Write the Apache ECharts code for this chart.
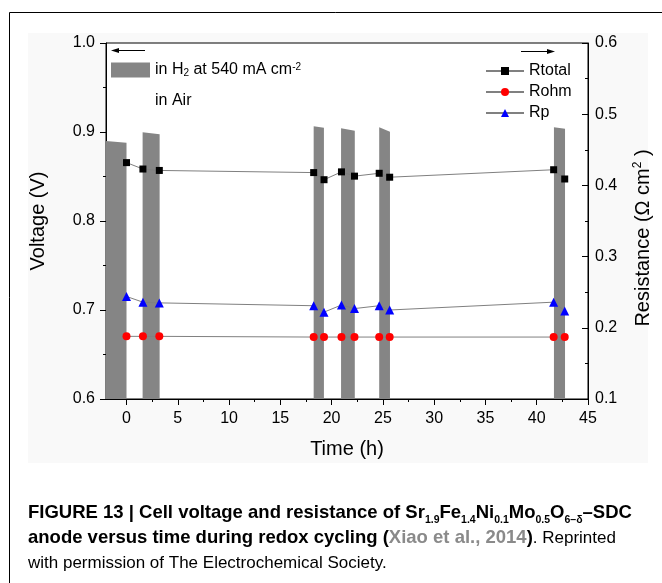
<!DOCTYPE html>
<html>
<head>
<meta charset="utf-8">
<script src="https://cdn.jsdelivr.net/npm/echarts@6/dist/echarts.min.js"></script>
<style>
html,body{margin:0;padding:0;background:#fff;}
#chart{width:662px;height:583px;}
</style>
</head>
<body>
<div id="chart"></div>
<script>
// ---- data ----
const times  = [0, 1.6, 3.2, 18.25, 19.26, 20.96, 22.23, 24.64, 25.66, 41.65, 42.73];
const rTotal = [0.432, 0.423, 0.421, 0.418, 0.408, 0.419, 0.413, 0.417, 0.4115, 0.422, 0.409];
const rOhm   = [0.188, 0.188, 0.188, 0.187, 0.187, 0.187, 0.187, 0.187, 0.187, 0.187, 0.187];
const rP     = [0.244, 0.236, 0.235, 0.231, 0.222, 0.232, 0.227, 0.231, 0.225, 0.236, 0.2235];

// H2 periods (shaded): start time, end time, voltage at start, voltage at end
const h2Start    = [-2, 1.57, 18.25, 20.92, 24.64, 41.68];
const h2End      = [0, 3.23, 19.25, 22.26, 25.69, 42.76];
const h2VoltFrom = [0.890, 0.8996, 0.9064, 0.9041, 0.9052, 0.9052];
const h2VoltTo   = [0.888, 0.8974, 0.9049, 0.9015, 0.9004, 0.9037];

const xMajorTicks = [0, 5, 10, 15, 20, 25, 30, 35, 40, 45];
const xMinorTicks = [2.5, 7.5, 12.5, 17.5, 22.5, 27.5, 32.5, 37.5, 42.5];

const voltMin = 0.6, voltMax = 1.0;
const resMin = 0.1, resMax = 0.6;

const FONT = 'Liberation Sans, Arial, sans-serif';
const h2Name = 'in H2 at 540 mA cm-2';
const airName = 'in Air';

const chart = echarts.init(document.getElementById('chart'), null, {renderer: 'canvas'});

const pairs = (ys) => times.map((t, i) => [t, ys[i]]);
const h2Data = h2Start.map((s, i) => [s, h2End[i], h2VoltFrom[i], h2VoltTo[i]]);

const lineGray = '#808080';

const option = {
  animation: false,
  backgroundColor: '#ffffff',
  textStyle: {fontFamily: FONT, color: '#000'},
  title: {
    left: 28,
    top: 500,
    padding: 0,
    text: '{b|FIGURE 13 | Cell voltage and resistance of Sr}{bs|1.9}{b|Fe}{bs|1.4}{b|Ni}{bs|0.1}{b|Mo}{bs|0.5}{b|O}{bs|6\u2013\u03b4}{b|\u2013SDC}\n' +
          '{b|anode versus time during redox cycling (}{g|Xiao et al., 2014}{b|)}{r|. Reprinted}\n' +
          '{r|with permission of The Electrochemical Society.}',
    textStyle: {
      fontFamily: FONT,
      rich: {
        b: {fontFamily: FONT, fontWeight: 'bold', fontSize: 18.5, lineHeight: 25.5, color: '#000'},
        bs: {fontFamily: FONT, fontWeight: 'bold', fontSize: 10.5, lineHeight: 14, verticalAlign: 'bottom', color: '#000'},
        g: {fontFamily: FONT, fontWeight: 'bold', fontSize: 18.5, lineHeight: 25.5, color: '#8a8a8a'},
        r: {fontFamily: FONT, fontWeight: 'normal', fontSize: 17, lineHeight: 25.5, color: '#000'}
      }
    }
  },
  grid: {
    left: 106, right: 74, top: 43, bottom: 184,
    show: true, backgroundColor: '#ffffff', borderColor: '#000', borderWidth: 1
  },
  legend: [
    {
      orient: 'vertical', left: 485, top: 63, padding: 0,
      itemWidth: 38, itemHeight: 10, itemGap: 5, itemTextGap: 5,
      selectedMode: false,
      textStyle: {fontFamily: FONT, fontSize: 16, lineHeight: 16, color: '#000'},
      data: ['Rtotal', 'Rohm', 'Rp']
    },
    {
      orient: 'vertical', left: 111, top: 62, padding: 0,
      itemWidth: 39, itemHeight: 15, itemGap: 14.7, itemTextGap: 3,
      selectedMode: false,
      textStyle: {
        fontFamily: FONT, fontSize: 16, lineHeight: 16, color: '#000',
        rich: {
          a: {fontFamily: FONT, fontSize: 16, lineHeight: 16, color: '#000'},
          sub: {fontFamily: FONT, fontSize: 10, lineHeight: 10, verticalAlign: 'bottom', color: '#000'},
          sup: {fontFamily: FONT, fontSize: 10, lineHeight: 10, verticalAlign: 'top', color: '#000'}
        }
      },
      formatter: function (name) {
        if (name === h2Name) return '{a|in H}{sub|2}{a| at 540 mA cm}{sup|-2}';
        return '{a|' + name + '}';
      },
      data: [
        {name: h2Name, icon: 'rect'},
        {name: airName, icon: 'rect', itemStyle: {color: 'rgba(0,0,0,0)', borderWidth: 0}, lineStyle: {width: 0}}
      ]
    }
  ],
  xAxis: [
    {
      type: 'value', position: 'bottom', min: -2, max: 45,
      name: 'Time (h)', nameLocation: 'middle', nameGap: 40,
      nameTextStyle: {fontFamily: FONT, fontSize: 20, color: '#000'},
      axisLine: {show: true, onZero: false, lineStyle: {color: '#000', width: 1}},
      axisTick: {show: true, inside: false, length: 6, customValues: xMajorTicks, lineStyle: {color: '#000', width: 1}},
      axisLabel: {show: true, customValues: xMajorTicks, margin: 12, fontFamily: FONT, fontSize: 16, color: '#000'},
      splitLine: {show: false}
    },
    {
      type: 'value', position: 'bottom', min: -2, max: 45,
      axisLine: {show: false, onZero: false},
      axisTick: {show: true, inside: false, length: 3, customValues: xMinorTicks, lineStyle: {color: '#000', width: 1}},
      axisLabel: {show: false},
      splitLine: {show: false}
    }
  ],
  yAxis: [
    {
      type: 'value', position: 'left', min: voltMin, max: voltMax, interval: 0.1,
      name: 'Voltage (V)', nameLocation: 'middle', nameGap: 58, nameRotate: 90,
      nameTextStyle: {fontFamily: FONT, fontSize: 20, color: '#000'},
      axisLine: {show: true, onZero: false, lineStyle: {color: '#000', width: 1}},
      axisTick: {show: true, inside: false, length: 6, lineStyle: {color: '#000', width: 1}},
      minorTick: {show: true, splitNumber: 2, length: 3, lineStyle: {color: '#000', width: 1}},
      axisLabel: {margin: 11, fontFamily: FONT, fontSize: 16, color: '#000', formatter: v => v.toFixed(1)},
      splitLine: {show: false}
    },
    {
      type: 'value', position: 'right', min: resMin, max: resMax, interval: 0.1,
      name: '{a|Resistance (\u03a9 cm}{sup|2}{a| )}', nameLocation: 'middle', nameGap: 44, nameRotate: 90,
      nameTextStyle: {
        fontFamily: FONT, fontSize: 20, color: '#000', padding: [0, 34, 0, 0],
        rich: {
          a: {fontFamily: FONT, fontSize: 20, lineHeight: 22, color: '#000'},
          sup: {fontFamily: FONT, fontSize: 12, lineHeight: 12, verticalAlign: 'top', color: '#000'}
        }
      },
      axisLine: {show: true, onZero: false, lineStyle: {color: '#000', width: 1}},
      axisTick: {show: true, inside: true, length: 6, lineStyle: {color: '#000', width: 1}},
      minorTick: {show: true, splitNumber: 2, length: 3, lineStyle: {color: '#000', width: 1}},
      axisLabel: {margin: 7, fontFamily: FONT, fontSize: 16, color: '#000', formatter: v => v.toFixed(1)},
      splitLine: {show: false}
    }
  ],
  graphic: [
    {type: 'rect', z: -100, silent: true, shape: {x: 28, y: 33, width: 620, height: 430}, style: {fill: '#f9f9f9'}},
    {type: 'line', silent: true, shape: {x1: 9.5, y1: 12.5, x2: 9.5, y2: 583}, style: {stroke: '#000', lineWidth: 1}},
    {type: 'line', silent: true, shape: {x1: 9.5, y1: 12.5, x2: 662, y2: 12.5}, style: {stroke: '#000', lineWidth: 1}},
    // arrows indicating axis of each group
    {type: 'line', silent: true, z: 10, shape: {x1: 117, y1: 50.5, x2: 145, y2: 50.5}, style: {stroke: '#000', lineWidth: 1}},
    {type: 'polygon', silent: true, z: 10, shape: {points: [[111, 50.5], [119, 48], [119, 53]]}, style: {fill: '#000'}},
    {type: 'line', silent: true, z: 10, shape: {x1: 521, y1: 51.5, x2: 549, y2: 51.5}, style: {stroke: '#000', lineWidth: 1}},
    {type: 'polygon', silent: true, z: 10, shape: {points: [[555, 51.5], [547, 49], [547, 54]]}, style: {fill: '#000'}}
  ],
  series: [
    {
      name: h2Name,
      type: 'custom',
      xAxisIndex: 0, yAxisIndex: 0,
      z: 1,
      itemStyle: {color: '#858585'},
      encode: {x: [0, 1], y: [2, 3]},
      data: h2Data,
      renderItem: function (params, api) {
        const x0 = api.value(0), x1 = api.value(1), y0 = api.value(2), y1 = api.value(3);
        const p1 = api.coord([x0, voltMin]);
        const p2 = api.coord([x0, y0]);
        const p3 = api.coord([x1, y1]);
        const p4 = api.coord([x1, voltMin]);
        return {
          type: 'polygon',
          shape: {points: [p1, p2, p3, p4]},
          style: {fill: '#858585', stroke: null}
        };
      }
    },
    {
      name: airName, type: 'line', xAxisIndex: 0, yAxisIndex: 0, data: [],
      itemStyle: {color: 'rgba(0,0,0,0)'}, lineStyle: {width: 0}
    },
    {
      name: 'Rtotal', type: 'line', xAxisIndex: 0, yAxisIndex: 1, z: 3,
      data: pairs(rTotal),
      symbol: 'rect', symbolSize: 7,
      itemStyle: {color: '#000'},
      lineStyle: {color: lineGray, width: 1}
    },
    {
      name: 'Rohm', type: 'line', xAxisIndex: 0, yAxisIndex: 1, z: 3,
      data: pairs(rOhm),
      symbol: 'circle', symbolSize: 8,
      itemStyle: {color: '#ff0000'},
      lineStyle: {color: lineGray, width: 1}
    },
    {
      name: 'Rp', type: 'line', xAxisIndex: 0, yAxisIndex: 1, z: 3,
      data: pairs(rP),
      symbol: 'triangle', symbolSize: 9,
      itemStyle: {color: '#0000ff'},
      lineStyle: {color: lineGray, width: 1}
    }
  ]
};

chart.setOption(option);
</script>
</body>
</html>
